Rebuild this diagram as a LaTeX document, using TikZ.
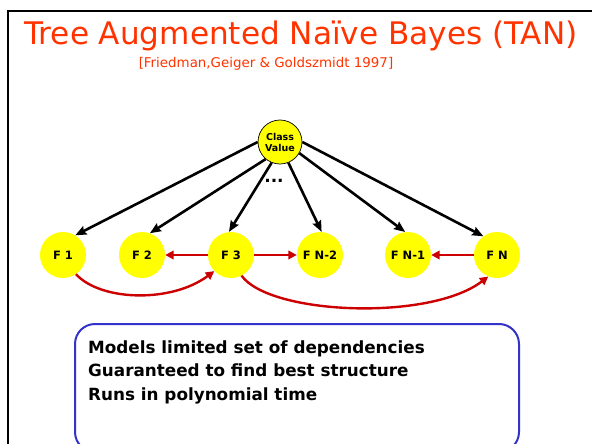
\documentclass[tikz,border=0pt]{standalone}
\usepackage{fontspec}
\setmainfont{DejaVu Sans}
\usetikzlibrary{arrows.meta}
\definecolor{titlered}{HTML}{FF3300}
\definecolor{edgered}{HTML}{CC0000}
\definecolor{boxblue}{HTML}{3333CC}
\definecolor{nodeyellow}{HTML}{FFFF00}
\begin{document}
\begin{tikzpicture}[x=1pt,y=-1pt,
  feat/.style={circle, fill=nodeyellow, minimum size=46pt, inner sep=0pt,
    font=\bfseries\fontsize{11.5}{13}\selectfont},
  classnode/.style={circle, fill=nodeyellow, draw=black, line width=0.7pt,
    minimum size=44pt, inner sep=0pt, align=center,
    font=\bfseries\fontsize{9.5}{11}\selectfont},
  parent/.style={line width=2.6pt, black, -{Stealth[length=11pt,width=9pt,inset=1.5pt]}},
  augment/.style={line width=2.4pt, edgered, -{Triangle[length=8.5pt,width=8.5pt]}},
  bullet/.style={anchor=base west, inner sep=0pt, font=\bfseries\fontsize{16.8}{19}\selectfont}
]
\useasboundingbox (0,0) rectangle (592,444);
\clip (0,0) rectangle (592,444);

% slide frame
\draw[line width=2pt] (8,11) rectangle (640,480);

% heading
\node[anchor=base, inner sep=0pt, text=titlered, font=\fontsize{31.1}{36}\selectfont]
  (title) at (301,45) {Tree Augmented Naïve Bayes (TAN)};
\node[anchor=base, inner sep=0pt, text=titlered, font=\fontsize{13.4}{16}\selectfont]
  (cite) at (266,68) {[Friedman,Geiger \& Goldszmidt 1997]};

% class node and feature nodes
\node[classnode] (cls) at (280,142) {Class\\Value};
\node[anchor=base, inner sep=0pt, font=\bfseries\fontsize{17}{17}\selectfont] (dots) at (274,182) {...};

\node[feat] (f1) at (63,255) {F 1};
\node[feat] (f2) at (142,255) {F 2};
\node[feat] (f3) at (231,255) {F 3};
\node[feat] (fn2) at (320,255) {F N-2};
\node[feat] (fn1) at (408,255) {F N-1};
\node[feat] (fn) at (497,255) {F N};

% class -> feature edges
\draw[parent] (cls.180) -- (f1.58);
\draw[parent] (cls.-130) -- (f2.70);
\draw[parent] (cls.-112) -- (f3.95);
\draw[parent] (cls.-68) -- (fn2.86);
\draw[parent] (cls.-30) -- (fn1.97);
\draw[parent] (cls.0) -- (fn.126);

% tree edges between features
\draw[augment] (f3.west) -- (f2.east);
\draw[augment] (f3.east) -- (fn2.west);
\draw[augment] (fn.west) -- (fn1.east);
\draw[augment] (f1.-56) .. controls +(25,27) and +(-43,32) .. (f3.-136);
\draw[augment] (f3.-63) .. controls +(28,39) and +(-59,45) .. (fn.-112);

% properties box
\draw[boxblue, line width=2pt, rounded corners=20pt] (75,324) rectangle (519,452);
\node[bullet] (p1) at (88,353) {Models limited set of dependencies};
\node[bullet] (p2) at (88,376.5) {Guaranteed to find best structure};
\node[bullet] (p3) at (88,400) {Runs in polynomial time};
\end{tikzpicture}
\end{document}
